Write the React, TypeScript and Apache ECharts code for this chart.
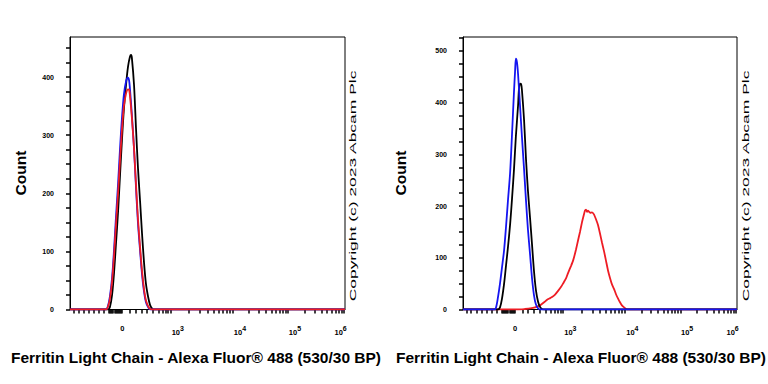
import React, { useEffect, useRef } from 'react';
import * as echarts from 'echarts';

const FONT = '"Liberation Sans", Arial, Helvetica, sans-serif';

const xAxisTitle = 'Ferritin Light Chain - Alexa Fluor® 488 (530/30 BP)';
const yAxisTitle = 'Count';
const copyrightText = 'Copyright (c) 2023 Abcam Plc';

// x axis is in display channels (0..1000) of a biexponential scale
const xChannelMax = 1000;
const xLabelChannels = [190, 392, 618, 818, 984];
const xLabelExponents = ['', '3', '4', '5', '6'];
const decadeChannels = [365, 590, 793, 996]; // 10^3, 10^4, 10^5, 10^6
const negativeMinorChannels = [12, 30, 49, 68, 87, 106, 124];
const lowMinorChannels = [218, 238, 260, 280, 301, 322, 336, 347, 356];

const leftYMax = 469;
const rightYMax = 527;
const leftYLabels = [0, 100, 200, 300, 400];
const rightYLabels = [0, 100, 200, 300, 400, 500];
const yTickStep = 25;

// [channel, count]
const leftBlack = [[0, 0], [138, 0], [145, 4], [153, 25], [160, 62], [167, 112], [175, 170], [182, 232], [189, 292], [196, 345], [204, 388], [211, 418], [218, 435], [222, 438], [225, 433], [233, 385], [240, 312], [247, 245], [255, 185], [262, 130], [269, 82], [276, 45], [284, 22], [291, 8], [298, 2], [305, 0], [1000, 0]];
const leftBlue = [[0, 0], [131, 0], [138, 6], [145, 22], [153, 55], [160, 102], [167, 158], [175, 218], [182, 278], [189, 330], [196, 370], [204, 393], [211, 399], [215, 394], [218, 380], [225, 335], [233, 275], [240, 210], [247, 150], [255, 100], [262, 60], [269, 31], [276, 13], [284, 4], [291, 0], [1000, 0]];
const leftRed = [[0, 0], [131, 0], [138, 5], [145, 18], [153, 48], [160, 92], [167, 145], [175, 202], [182, 258], [189, 310], [196, 350], [204, 372], [211, 379], [215, 378], [218, 368], [225, 330], [233, 276], [240, 215], [247, 157], [255, 106], [262, 66], [269, 36], [276, 16], [284, 6], [291, 1], [298, 0], [1000, 0]];

const rightBlue = [[0, 0], [113, 0], [120, 3], [128, 25], [135, 50], [142, 80], [150, 115], [157, 160], [164, 210], [172, 265], [179, 340], [186, 420], [190, 460], [193, 485], [197, 478], [201, 455], [208, 395], [215, 335], [223, 270], [230, 210], [237, 155], [245, 105], [252, 60], [259, 28], [266, 10], [274, 2], [281, 0], [1000, 0]];
const rightBlack = [[0, 0], [128, 0], [135, 4], [142, 20], [150, 50], [157, 85], [164, 120], [172, 165], [179, 215], [186, 270], [193, 335], [201, 395], [204, 425], [208, 437], [212, 436], [215, 425], [223, 365], [230, 290], [237, 230], [245, 175], [252, 125], [259, 75], [266, 38], [274, 15], [281, 5], [288, 1], [296, 0], [1000, 0]];
const rightRed = [[0, 0], [201, 0], [226, 1], [245, 2], [263, 4], [281, 8], [296, 14], [307, 19], [318, 22], [325, 24], [336, 29], [347, 36], [358, 44], [365, 50], [376, 60], [383, 70], [394, 84], [402, 95], [412, 115], [420, 134], [427, 150], [434, 168], [442, 185], [445, 191], [449, 193], [453, 189], [456, 191], [464, 187], [471, 188], [478, 184], [485, 175], [493, 163], [500, 147], [507, 130], [515, 112], [522, 94], [529, 76], [537, 60], [544, 48], [551, 40], [558, 30], [566, 21], [573, 14], [580, 8], [588, 4], [595, 1], [602, 0], [1000, 0]];

const BLACK = '#000000';
const BLUE = '#1515f0';
const RED = '#ee1c24';

function buildOption() {
  const logMinor: number[] = [];
  for (let d = 0; d < decadeChannels.length - 1; d++) {
    for (let m = 2; m <= 9; m++) {
      logMinor.push(decadeChannels[d] + Math.log10(m) * (decadeChannels[d + 1] - decadeChannels[d]));
    }
  }
  const zeroCluster: number[] = [];
  for (let c = 141; c <= 191; c += 4) zeroCluster.push(c);
  const allXTicks = [...negativeMinorChannels, ...zeroCluster, ...lowMinorChannels, ...decadeChannels, ...logMinor].sort((a, b) => a - b);

  const xFormatter = (v: number) => {
    let best = 0;
    for (let i = 1; i < xLabelChannels.length; i++) {
      if (Math.abs(xLabelChannels[i] - v) < Math.abs(xLabelChannels[best] - v)) best = i;
    }
    const e = xLabelExponents[best];
    return e ? `{b|10}{s|${e}}` : '{b|0}';
  };

  const grids = [
    { left: 70, top: 37, width: 275, height: 272.5 },
    { left: 463, top: 37, width: 274, height: 272.5 },
  ].map((g) => ({ ...g, show: true, borderColor: '#000', borderWidth: 1, containLabel: false }));

  const xAxes: any[] = [];
  const yAxes: any[] = [];
  [0, 1].forEach((gi) => {
    xAxes.push({
      type: 'value', gridIndex: gi, min: 0, max: xChannelMax, position: 'bottom',
      axisLine: { show: true, onZero: false, lineStyle: { color: '#000', width: 1 } },
      axisTick: { show: true, customValues: allXTicks, length: 4, lineStyle: { color: '#000', width: 1.5 } },
      axisLabel: {
        show: true, customValues: xLabelChannels, formatter: xFormatter, margin: 15,
        rich: {
          b: { fontFamily: FONT, fontSize: 7.5, fontWeight: 'bold', color: '#000', verticalAlign: 'bottom' },
          s: { fontFamily: FONT, fontSize: 7, fontWeight: 'bold', color: '#000', verticalAlign: 'top', padding: [0, 0, 5, 0] },
        },
      },
      splitLine: { show: false },
    });
    const yMax = gi === 0 ? leftYMax : rightYMax;
    const labels = gi === 0 ? leftYLabels : rightYLabels;
    const ticks: number[] = [];
    for (let v = 0; v < yMax; v += yTickStep) ticks.push(v);
    yAxes.push({
      type: 'value', gridIndex: gi, min: 0, max: yMax, position: 'left',
      axisLine: { show: true, onZero: false, lineStyle: { color: '#000', width: 1 } },
      axisTick: { show: true, customValues: ticks, length: 4, lineStyle: { color: '#000', width: 1.5 } },
      axisLabel: { show: true, customValues: labels, margin: 16, fontFamily: FONT, fontSize: 7, fontWeight: 'bold', color: '#000' },
      splitLine: { show: false },
    });
  });

  const mk = (data: number[][], color: string, xi: number, smooth: number) => ({
    type: 'line', data, xAxisIndex: xi, yAxisIndex: xi, showSymbol: false, symbol: 'none',
    smooth, lineStyle: { color, width: 1.8 }, itemStyle: { color }, silent: true,
  });

  const series: any[] = [
    mk(leftBlack, BLACK, 0, 0.3),
    mk(leftBlue, BLUE, 0, 0.3),
    mk(leftRed, RED, 0, 0.3),
    mk(rightRed, RED, 1, 0.15),
    mk(rightBlack, BLACK, 1, 0.3),
    mk(rightBlue, BLUE, 1, 0.3),
  ];

  const titleStyle = { font: `bold 15.5px ${FONT}`, fill: '#000', align: 'center', verticalAlign: 'middle' };
  const copyStyle = { font: `9px ${FONT}`, fill: '#000', align: 'center', verticalAlign: 'middle', text: copyrightText };
  const graphic = [
    { type: 'text', x: 20, y: 173, rotation: Math.PI / 2, style: { ...titleStyle, text: yAxisTitle } },
    { type: 'text', x: 400, y: 173, rotation: Math.PI / 2, style: { ...titleStyle, text: yAxisTitle } },
    { type: 'text', x: 196, y: 357, style: { ...titleStyle, text: xAxisTitle } },
    { type: 'text', x: 581, y: 357, style: { ...titleStyle, text: xAxisTitle } },
    { type: 'text', x: 353, y: 186, rotation: Math.PI / 2, scaleX: 1.94, style: copyStyle },
    { type: 'text', x: 746, y: 186, rotation: Math.PI / 2, scaleX: 1.94, style: copyStyle },
  ];

  return {
    animation: false,
    backgroundColor: '#ffffff',
    grid: grids,
    xAxis: xAxes,
    yAxis: yAxes,
    series,
    graphic,
  };
}

export default function App() {
  const ref = useRef<HTMLDivElement>(null);
  useEffect(() => {
    if (!ref.current) return;
    const chart = echarts.init(ref.current, null, { renderer: 'svg' });
    chart.setOption(buildOption() as any);
    return () => chart.dispose();
  }, []);
  return <div ref={ref} style={{ position: 'fixed', left: 0, top: 0, width: 768, height: 384, background: '#fff' }} />;
}
